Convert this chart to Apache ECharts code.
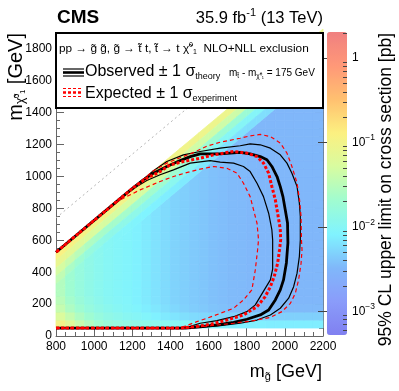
<!DOCTYPE html>
<html>
<head>
<meta charset="utf-8">
<script src="https://cdn.jsdelivr.net/npm/echarts@6/dist/echarts.min.js"></script>
<style>
  html, body { margin: 0; padding: 0; background: #fff; }
  #main { width: 399px; height: 391px; }
</style>
</head>
<body>
<div id="main"></div>
<script>
// bin centres of the limit map (GeV)
var gluinoMass = [825, 875, 925, 975, 1025, 1075, 1125, 1175, 1225, 1275, 1325, 1375, 1425, 1475,
                  1525, 1575, 1625, 1675, 1725, 1775, 1825, 1875, 1925, 1975, 2025, 2075, 2125, 2175];
var lspMass = [75, 125, 175, 225, 275, 325, 375, 425, 475, 525, 575, 625, 675, 725,
               775, 825, 875, 925, 975, 1025, 1075, 1125, 1175, 1225, 1275, 1325, 1375, 1425];
// strip along the kinematic edge: distance below m_LSP = m_gluino - 275 (GeV)
var edgeDelta = [25, 75, 125, 175, 225];

// log10 of the 95% CL upper limit [pb], one row per lspMass, one column per gluinoMass
var N = null;
var limitLog10 = [
  [-1.0,-1.2,-1.4,-1.55,-1.68,-1.76,-1.8,-1.84,-1.88,-1.9,-1.92,-1.95,-1.97,-2.0,-2.02,-2.04,-2.06,-2.08,-2.1,-2.1,-2.11,-2.11,-2.12,-2.12,-2.12,-2.12,-2.12,-2.12],
  [-1.25,-1.42,-1.58,-1.7,-1.8,-1.87,-1.92,-1.97,-2.01,-2.05,-2.1,-2.15,-2.18,-2.22,-2.25,-2.27,-2.29,-2.3,-2.31,-2.31,-2.32,-2.32,-2.32,-2.32,-2.32,-2.32,-2.32,-2.32],
  [-1.42,-1.58,-1.7,-1.8,-1.88,-1.94,-1.99,-2.03,-2.07,-2.12,-2.17,-2.22,-2.27,-2.31,-2.34,-2.37,-2.4,-2.42,-2.44,-2.45,-2.46,-2.46,-2.47,-2.47,-2.47,-2.47,-2.47,-2.47],
  [-1.5,-1.65,-1.76,-1.85,-1.92,-1.98,-2.02,-2.05,-2.1,-2.15,-2.2,-2.25,-2.3,-2.33,-2.36,-2.39,-2.42,-2.44,-2.46,-2.47,-2.48,-2.49,-2.5,-2.5,-2.5,-2.5,-2.5,-2.5],
  [-1.55,-1.7,-1.8,-1.88,-1.95,-2.0,-2.03,-2.06,-2.1,-2.15,-2.2,-2.25,-2.3,-2.33,-2.36,-2.39,-2.42,-2.44,-2.46,-2.47,-2.48,-2.49,-2.5,-2.5,-2.5,-2.5,-2.5,-2.5],
  [-1.55,-1.7,-1.8,-1.88,-1.95,-2.0,-2.03,-2.06,-2.1,-2.15,-2.2,-2.25,-2.3,-2.33,-2.36,-2.39,-2.42,-2.44,-2.46,-2.47,-2.48,-2.49,-2.5,-2.5,-2.5,-2.5,-2.5,-2.5],
  [N,-1.7,-1.8,-1.88,-1.95,-2.0,-2.03,-2.06,-2.1,-2.15,-2.2,-2.25,-2.3,-2.33,-2.36,-2.39,-2.42,-2.44,-2.46,-2.47,-2.48,-2.49,-2.5,-2.5,-2.5,-2.5,-2.5,-2.5],
  [N,N,-1.8,-1.88,-1.95,-2.0,-2.03,-2.06,-2.1,-2.15,-2.2,-2.25,-2.3,-2.33,-2.36,-2.39,-2.42,-2.44,-2.46,-2.47,-2.48,-2.49,-2.5,-2.5,-2.5,-2.5,-2.5,-2.5],
  [N,N,N,-1.88,-1.95,-2.0,-2.03,-2.06,-2.1,-2.15,-2.2,-2.25,-2.3,-2.33,-2.36,-2.39,-2.42,-2.44,-2.46,-2.47,-2.48,-2.49,-2.5,-2.5,-2.5,-2.5,-2.5,-2.5],
  [N,N,N,N,-1.95,-2.0,-2.03,-2.06,-2.1,-2.15,-2.2,-2.25,-2.3,-2.33,-2.36,-2.39,-2.42,-2.44,-2.46,-2.47,-2.48,-2.49,-2.5,-2.5,-2.5,-2.5,-2.5,-2.5],
  [N,N,N,N,N,-2.0,-2.03,-2.06,-2.1,-2.15,-2.2,-2.25,-2.3,-2.33,-2.36,-2.39,-2.42,-2.44,-2.46,-2.47,-2.48,-2.49,-2.5,-2.5,-2.5,-2.5,-2.5,-2.5],
  [N,N,N,N,N,N,-2.03,-2.06,-2.1,-2.15,-2.2,-2.25,-2.3,-2.33,-2.36,-2.39,-2.42,-2.44,-2.46,-2.47,-2.48,-2.49,-2.5,-2.5,-2.5,-2.5,-2.5,-2.5],
  [N,N,N,N,N,N,N,-2.06,-2.1,-2.15,-2.2,-2.25,-2.3,-2.33,-2.36,-2.39,-2.42,-2.44,-2.46,-2.47,-2.48,-2.49,-2.5,-2.5,-2.5,-2.5,-2.5,-2.5],
  [N,N,N,N,N,N,N,N,-2.1,-2.15,-2.2,-2.25,-2.3,-2.33,-2.36,-2.39,-2.42,-2.44,-2.46,-2.47,-2.48,-2.49,-2.5,-2.5,-2.5,-2.5,-2.5,-2.5],
  [N,N,N,N,N,N,N,N,N,-2.15,-2.2,-2.25,-2.3,-2.33,-2.36,-2.39,-2.42,-2.44,-2.46,-2.47,-2.48,-2.49,-2.5,-2.5,-2.5,-2.5,-2.5,-2.5],
  [N,N,N,N,N,N,N,N,N,N,-2.2,-2.25,-2.3,-2.33,-2.36,-2.39,-2.42,-2.44,-2.46,-2.47,-2.48,-2.49,-2.5,-2.5,-2.5,-2.5,-2.5,-2.5],
  [N,N,N,N,N,N,N,N,N,N,N,-2.25,-2.3,-2.33,-2.36,-2.39,-2.42,-2.44,-2.46,-2.47,-2.48,-2.49,-2.5,-2.5,-2.5,-2.5,-2.5,-2.5],
  [N,N,N,N,N,N,N,N,N,N,N,N,-2.3,-2.33,-2.36,-2.39,-2.42,-2.44,-2.46,-2.47,-2.48,-2.49,-2.5,-2.5,-2.5,-2.5,-2.5,-2.5],
  [N,N,N,N,N,N,N,N,N,N,N,N,N,-2.33,-2.36,-2.39,-2.42,-2.44,-2.46,-2.47,-2.48,-2.49,-2.5,-2.5,-2.5,-2.5,-2.5,-2.5],
  [N,N,N,N,N,N,N,N,N,N,N,N,N,N,-2.36,-2.39,-2.42,-2.44,-2.46,-2.47,-2.48,-2.49,-2.5,-2.5,-2.5,-2.5,-2.5,-2.5],
  [N,N,N,N,N,N,N,N,N,N,N,N,N,N,N,-2.39,-2.42,-2.44,-2.46,-2.47,-2.48,-2.49,-2.5,-2.5,-2.5,-2.5,-2.5,-2.5],
  [N,N,N,N,N,N,N,N,N,N,N,N,N,N,N,N,-2.42,-2.44,-2.46,-2.47,-2.48,-2.49,-2.5,-2.5,-2.5,-2.5,-2.5,-2.5],
  [N,N,N,N,N,N,N,N,N,N,N,N,N,N,N,N,N,-2.44,-2.46,-2.47,-2.48,-2.49,-2.5,-2.5,-2.5,-2.5,-2.5,-2.5],
  [N,N,N,N,N,N,N,N,N,N,N,N,N,N,N,N,N,N,-2.46,-2.47,-2.48,-2.49,-2.5,-2.5,-2.5,-2.5,-2.5,-2.5],
  [N,N,N,N,N,N,N,N,N,N,N,N,N,N,N,N,N,N,N,-2.47,-2.48,-2.49,-2.5,-2.5,-2.5,-2.5,-2.5,-2.5],
  [N,N,N,N,N,N,N,N,N,N,N,N,N,N,N,N,N,N,N,N,-2.48,-2.49,-2.5,-2.5,-2.5,-2.5,-2.5,-2.5],
  [N,N,N,N,N,N,N,N,N,N,N,N,N,N,N,N,N,N,N,N,N,-2.49,-2.5,-2.5,-2.5,-2.5,-2.5,-2.5],
  [N,N,N,N,N,N,N,N,N,N,N,N,N,N,N,N,N,N,N,N,N,N,-2.5,-2.5,-2.5,-2.5,-2.5,-2.5]
];
// log10 limit in the strip along the edge, one row per edgeDelta, one column per gluinoMass
var edgeLog10 = [
  [-0.92,-0.95,-0.97,-1.0,-1.0,-1.0,-1.0,-1.0,-1.0,-1.0,-1.0,-1.0,-1.02,-1.02,-1.03,-1.04,-1.05,-1.05,-1.05,-1.05,-1.06,-1.06,-1.06,-1.07,-1.07,-1.07,-1.08,-1.08],
  [-1.1,-1.15,-1.2,-1.25,-1.28,-1.3,-1.3,-1.3,-1.3,-1.3,-1.3,-1.32,-1.32,-1.33,-1.34,-1.35,-1.35,-1.36,-1.36,-1.37,-1.37,-1.38,-1.38,-1.38,-1.39,-1.39,-1.4,-1.4],
  [-1.3,-1.4,-1.5,-1.58,-1.62,-1.65,-1.65,-1.65,-1.66,-1.67,-1.68,-1.68,-1.69,-1.7,-1.7,-1.7,-1.71,-1.72,-1.72,-1.73,-1.73,-1.74,-1.74,-1.74,-1.75,-1.75,-1.75,-1.75],
  [-1.45,-1.6,-1.7,-1.8,-1.85,-1.88,-1.9,-1.9,-1.9,-1.92,-1.93,-1.94,-1.95,-1.96,-1.97,-1.98,-1.99,-2.0,-2.0,-2.01,-2.02,-2.02,-2.03,-2.03,-2.04,-2.04,-2.05,-2.05],
  [-1.55,-1.7,-1.8,-1.88,-1.95,-2.0,-2.03,-2.05,-2.07,-2.08,-2.1,-2.12,-2.13,-2.15,-2.16,-2.17,-2.18,-2.19,-2.2,-2.21,-2.22,-2.22,-2.23,-2.23,-2.24,-2.24,-2.25,-2.25]
];

// exclusion contours [m_gluino, m_LSP]
var observed = [[800,50],[1480,50],[1556,58],[1644,69],[1731,86],[1801,105],[1871,132],[1915,163],[1950,226],[1976,289],[1993,352],[2008,458],[2016,584],[2014,709],[2002,791],[1990,874],[1976,937],[1959,1000],[1932,1063],[1906,1105],[1871,1125],[1818,1142],[1766,1151],[1661,1142],[1556,1142],[1504,1125],[1451,1100],[1381,1063],[1311,1021],[1258,979],[1206,931],[1136,861],[1031,756],[800,525]];
var observedUp = [[800,50],[1480,50],[1556,55],[1661,65],[1766,80],[1854,100],[1924,132],[1976,174],[2020,237],[2046,309],[2064,394],[2076,498],[2081,603],[2081,749],[2076,833],[2064,937],[2037,1021],[2011,1084],[1976,1136],[1924,1178],[1871,1199],[1818,1205],[1766,1193],[1661,1178],[1556,1157],[1468,1136],[1381,1094],[1311,1036],[1258,983],[1206,931],[1136,861],[1031,756],[800,525]];
var observedDown = [[800,50],[1440,50],[1504,60],[1556,80],[1644,96],[1731,121],[1801,153],[1845,195],[1871,247],[1897,299],[1924,352],[1936,420],[1936,520],[1936,603],[1932,665],[1915,770],[1888,874],[1854,958],[1818,1031],[1783,1063],[1731,1084],[1661,1090],[1608,1100],[1556,1092],[1504,1084],[1416,1042],[1346,1011],[1276,975],[1224,937],[1136,861],[1031,756],[800,525]];
var expected = [[800,50],[1450,50],[1500,55],[1556,63],[1608,73],[1696,100],[1783,132],[1854,184],[1897,247],[1924,309],[1944,372],[1962,456],[1972,540],[1978,603],[1976,665],[1972,700],[1962,770],[1950,854],[1932,937],[1915,1021],[1888,1084],[1854,1125],[1801,1147],[1731,1157],[1626,1136],[1556,1115],[1468,1094],[1398,1073],[1346,1031],[1276,990],[1206,931],[1136,861],[1031,756],[800,525]];
var expectedUp = [[800,50],[1480,50],[1556,58],[1644,69],[1731,80],[1836,96],[1924,117],[1985,153],[2029,205],[2055,268],[2072,352],[2085,456],[2090,540],[2087,603],[2085,749],[2077,854],[2064,958],[2037,1063],[2011,1147],[1976,1210],[1924,1251],[1871,1264],[1818,1255],[1766,1240],[1661,1215],[1591,1190],[1521,1150],[1451,1118],[1381,1084],[1311,1036],[1206,931],[1136,861],[1031,756],[800,525]];
var expectedDown = [[800,50],[1440,50],[1477,62],[1539,90],[1591,111],[1661,142],[1731,174],[1783,226],[1827,289],[1845,414],[1857,540],[1862,603],[1854,707],[1836,791],[1818,874],[1783,958],[1749,1021],[1696,1052],[1626,1063],[1556,1046],[1504,1031],[1416,1000],[1346,969],[1241,916],[1153,864],[1101,826],[1031,756],[800,525]];
var refDiagonal = [[800,740],[1900,1840]];

var colorbarMajor = [-3, -2, -1, 0];

var FONT = 'Liberation Sans, Arial, Helvetica, sans-serif';
var edgeOffset = 275;   // scan stops at m_LSP = m_gluino - 275
var stripWidth = 250;   // rectangular bins start this far below the edge
var halfBin = 25;

// keep the part of a polygon with m_LSP <= m_gluino - off
function clipBelow(poly, off) {
  var out = [];
  function f(p) { return p[0] - off - p[1]; }
  for (var i = 0; i < poly.length; i++) {
    var a = poly[i], b = poly[(i + 1) % poly.length];
    var fa = f(a), fb = f(b);
    if (fa >= 0) out.push(a);
    if ((fa >= 0) !== (fb >= 0)) {
      var t = fa / (fa - fb);
      out.push([a[0] + t * (b[0] - a[0]), a[1] + t * (b[1] - a[1])]);
    }
  }
  return out;
}

var heatData = [];
for (var j = 0; j < lspMass.length; j++) {
  for (var i = 0; i < gluinoMass.length; i++) {
    if (limitLog10[j][i] !== null) heatData.push([gluinoMass[i], lspMass[j], limitLog10[j][i]]);
  }
}
var edgeData = [];
for (var r = 0; r < edgeDelta.length; r++) {
  for (var c = 0; c < gluinoMass.length; c++) {
    edgeData.push([gluinoMass[c], edgeDelta[r], edgeLog10[r][c]]);
  }
}

var colorbarMinor = [];
for (var n = -4; n <= 0; n++) {
  for (var k = 2; k <= 9; k++) {
    var v = n + Math.log10(k);
    if (v > -3.28 && v < 0.31) colorbarMinor.push(v);
  }
}

function cellPolygon(api, poly, c) {
  return {
    type: 'polygon',
    shape: { points: poly.map(function (p) { return api.coord(p); }) },
    style: { fill: c, stroke: c, lineWidth: 0.8 }
  };
}

function contour(data, color, width, type) {
  return {
    type: 'line', data: data, symbol: 'none', silent: true, z: 3,
    lineStyle: { color: color, width: width, type: type }
  };
}

function plain(v) { return String(v); }

var axisGrey = '#666';
var chart = echarts.init(document.getElementById('main'));

var option = {
  animation: false,
  textStyle: { fontFamily: FONT },
  grid: [
    { left: 56, right: 76, top: 33, bottom: 55 },
    { left: 327, right: 52, top: 32, bottom: 56 }
  ],
  xAxis: [
    {
      gridIndex: 0, type: 'value', min: 800, max: 2200, interval: 200,
      axisLine: { onZero: false, lineStyle: { color: axisGrey } },
      axisTick: { inside: true, length: 8, lineStyle: { color: axisGrey } },
      minorTick: { show: true, splitNumber: 4, length: 4, lineStyle: { color: axisGrey } },
      axisLabel: { color: '#000', fontSize: 12, margin: 5, formatter: plain },
      splitLine: { show: false }
    },
    { gridIndex: 1, type: 'value', min: 0, max: 1, show: false }
  ],
  yAxis: [
    {
      gridIndex: 0, type: 'value', min: 0, max: 1900, interval: 200, position: 'left',
      axisLine: { show: true, onZero: false, lineStyle: { color: axisGrey } },
      axisTick: { inside: true, length: 8, lineStyle: { color: axisGrey } },
      minorTick: { show: true, splitNumber: 4, length: 4, lineStyle: { color: axisGrey } },
      axisLabel: { color: '#000', fontSize: 12, margin: 4, showMaxLabel: false, formatter: plain },
      splitLine: { show: false }
    },
    {
      gridIndex: 0, type: 'value', min: 0, max: 1900, interval: 200, position: 'right',
      axisLine: { show: true, onZero: false, lineStyle: { color: axisGrey } },
      axisTick: { inside: true, length: 8, lineStyle: { color: axisGrey } },
      minorTick: { show: true, splitNumber: 4, length: 4, lineStyle: { color: axisGrey } },
      axisLabel: { show: false },
      splitLine: { show: false }
    },
    {
      gridIndex: 1, type: 'value', min: -3.28, max: 0.31, position: 'right', z: 10,
      axisLine: { show: false },
      axisTick: { inside: true, length: 9, customValues: colorbarMajor, lineStyle: { color: '#444' } },
      axisLabel: {
        customValues: colorbarMajor, margin: 5, color: '#000',
        formatter: function (v) {
          return v === 0 ? '{b|1}' : '{b|10}{s|\u2212' + Math.round(-v) + '}';
        },
        rich: {
          b: { fontSize: 12, fontFamily: FONT, color: '#000' },
          s: { fontSize: 8.5, fontFamily: FONT, color: '#000', padding: [0, 0, 9, 0] }
        }
      },
      splitLine: { show: false }
    },
    {
      gridIndex: 1, type: 'value', min: -3.28, max: 0.31, position: 'right', z: 10,
      axisLine: { show: false },
      axisTick: { inside: true, length: 4, customValues: colorbarMinor, lineStyle: { color: '#444' } },
      axisLabel: { show: false },
      splitLine: { show: false }
    }
  ],
  visualMap: {
    type: 'continuous', seriesIndex: [0, 1], dimension: 2,
    min: -3.28, max: 0.31, calculable: false, hoverLink: false,
    left: 327, top: 32, itemWidth: 20, itemHeight: 303, padding: 0,
    inRange: {
      color: ['#8080f0', '#8a9cfa', '#80b8fa', '#80f4ff', '#a0fcd0',
              '#d8fca0', '#fcf080', '#ffc070', '#ff9878', '#f08080']
    }
  },
  series: [
    {
      type: 'custom', xAxisIndex: 0, yAxisIndex: 0, z: 1, silent: true,
      encode: { x: 0, y: 1 },
      data: heatData,
      renderItem: function (params, api) {
        var g = api.value(0), m = api.value(1);
        var poly = clipBelow([[g - halfBin, m - halfBin], [g + halfBin, m - halfBin],
                              [g + halfBin, m + halfBin], [g - halfBin, m + halfBin]],
                             edgeOffset + stripWidth);
        if (poly.length < 3) return;
        return cellPolygon(api, poly, api.visual('color'));
      }
    },
    {
      type: 'custom', xAxisIndex: 0, yAxisIndex: 0, z: 1, silent: true,
      encode: { x: 0 },
      data: edgeData,
      renderItem: function (params, api) {
        var g = api.value(0), d = api.value(1);
        var x0 = g - halfBin, x1 = g + halfBin;
        var top = edgeOffset + d - halfBin, bot = edgeOffset + d + halfBin;
        var poly = [[x0, x0 - top], [x1, x1 - top], [x1, x1 - bot], [x0, x0 - bot]];
        return cellPolygon(api, poly, api.visual('color'));
      }
    },
    contour(refDiagonal, '#b4b4b4', 1, [2, 3]),
    contour(observedUp, '#000', 1.2, 'solid'),
    contour(observedDown, '#000', 1.2, 'solid'),
    contour(observed, '#000', 2.8, 'solid'),
    contour(expectedUp, '#ff0000', 1.2, [4, 3]),
    contour(expectedDown, '#ff0000', 1.2, [4, 3]),
    contour(expected, '#ff0000', 3, [3, 2])
  ],
  graphic: [
    { type: 'text', x: 57, y: 18, z: 60,
      style: { text: 'CMS', fontSize: 19, fontWeight: 'bold', fontFamily: FONT, fill: '#000', verticalAlign: 'middle' } },
    { type: 'text', x: 323, y: 18, z: 60,
      style: { text: '35.9 fb{s|-1} (13 TeV)', fontSize: 16.5, fontFamily: FONT, fill: '#000',
               align: 'right', verticalAlign: 'middle',
               rich: { s: { fontSize: 11, fontFamily: FONT, padding: [0, 0, 10, 0] } } } },
    { type: 'rect', z: 50, shape: { x: 56, y: 33, width: 267, height: 75 },
      style: { fill: '#fff', stroke: '#000', lineWidth: 2 } },
    { type: 'text', x: 59, y: 49, z: 60,
      style: { text: 'pp \u2192 g\u0303 g\u0303, g\u0303 \u2192 t\u0303 t, t\u0303 \u2192 t \u03c7\u0303{s|0}{d|1}  NLO+NLL exclusion',
               fontSize: 11.8, fontFamily: FONT, fill: '#000', verticalAlign: 'middle',
               rich: { s: { fontSize: 7, padding: [0, 0, 7, 0] }, d: { fontSize: 7, padding: [6, 0, 0, 0] } } } },
    { type: 'line', z: 60, shape: { x1: 63, y1: 69, x2: 84, y2: 69 }, style: { stroke: '#000', lineWidth: 1.2 } },
    { type: 'line', z: 60, shape: { x1: 63, y1: 72.5, x2: 84, y2: 72.5 }, style: { stroke: '#000', lineWidth: 2.6 } },
    { type: 'line', z: 60, shape: { x1: 63, y1: 76, x2: 84, y2: 76 }, style: { stroke: '#000', lineWidth: 1.2 } },
    { type: 'text', x: 85, y: 72, z: 60,
      style: { text: 'Observed \u00b1 1 \u03c3{d|theory}', fontSize: 16, fontFamily: FONT, fill: '#000', verticalAlign: 'middle',
               rich: { d: { fontSize: 9, padding: [10, 0, 0, 0] } } } },
    { type: 'line', z: 60, shape: { x1: 63, y1: 88.5, x2: 82, y2: 88.5 }, style: { stroke: '#ff0000', lineWidth: 1.2, lineDash: [3, 2] } },
    { type: 'line', z: 60, shape: { x1: 63, y1: 92.5, x2: 82, y2: 92.5 }, style: { stroke: '#ff0000', lineWidth: 2.6, lineDash: [3, 2] } },
    { type: 'line', z: 60, shape: { x1: 63, y1: 96.5, x2: 82, y2: 96.5 }, style: { stroke: '#ff0000', lineWidth: 1.2, lineDash: [3, 2] } },
    { type: 'text', x: 85, y: 93.5, z: 60,
      style: { text: 'Expected \u00b1 1 \u03c3{d|experiment}', fontSize: 16, fontFamily: FONT, fill: '#000', verticalAlign: 'middle',
               rich: { d: { fontSize: 9, padding: [10, 0, 0, 0] } } } },
    { type: 'text', x: 229, y: 73, z: 60,
      style: { text: 'm{d|t\u0303} - m{d|\u03c7\u0303\u2070\u2081} = 175 GeV', fontSize: 10, fontFamily: FONT, fill: '#000', verticalAlign: 'middle',
               rich: { d: { fontSize: 6.5, padding: [6, 0, 0, 0] } } } },
    { type: 'text', x: 322, y: 372, z: 60,
      style: { text: 'm{d|g\u0303} [GeV]', fontSize: 18, fontFamily: FONT, fill: '#000', align: 'right', verticalAlign: 'middle',
               rich: { d: { fontSize: 11, padding: [9, 0, 0, 0] } } } },
    { type: 'text', x: 16, y: 33, z: 60, rotation: Math.PI / 2,
      style: { text: 'm{d|\u03c7\u0303\u2070\u2081} [GeV]', fontSize: 20, fontFamily: FONT, fill: '#000', align: 'right', verticalAlign: 'middle',
               rich: { d: { fontSize: 12, padding: [10, 0, 0, 0] } } } },
    { type: 'text', x: 386, y: 33, z: 60, rotation: Math.PI / 2,
      style: { text: '95% CL upper limit on cross section [pb]', fontSize: 17.5, fontFamily: FONT, fill: '#000',
               align: 'right', verticalAlign: 'middle' } }
  ]
};

chart.setOption(option);
</script>
</body>
</html>
